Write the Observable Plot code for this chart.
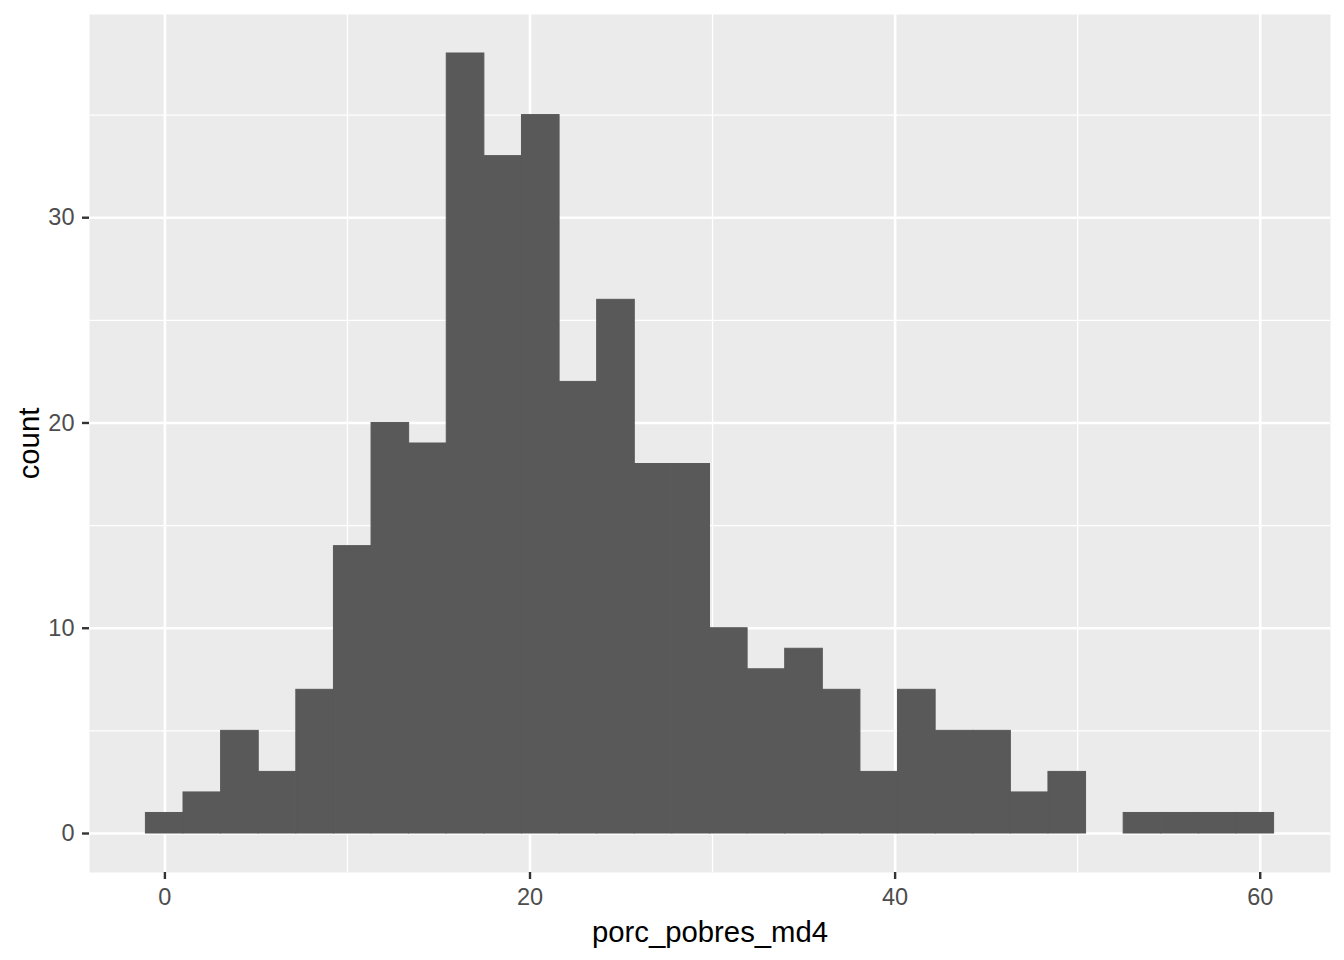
<!DOCTYPE html>
<html>
<head>
<meta charset="utf-8">
<script src="https://cdn.jsdelivr.net/npm/d3@7"></script>
<script src="https://cdn.jsdelivr.net/npm/@observablehq/plot@0.6"></script>
<style>
  html, body { margin: 0; padding: 0; background: #fff; }
  svg { display: block; }
</style>
</head>
<body>
<div id="chart"></div>
<script>
// Bin edges (data units) and counts
const binEdges = [-1.04, 1.02, 3.08, 5.14, 7.20, 9.26, 11.32, 13.38, 15.44, 17.50,
  19.56, 21.62, 23.68, 25.74, 27.80, 29.86, 31.92, 33.98, 36.04, 38.10,
  40.16, 42.22, 44.28, 46.34, 48.40, 50.46, 52.52, 54.58, 56.64, 58.70, 60.76];
const counts = [1, 2, 5, 3, 7, 14, 20, 19, 38, 33, 35, 22, 26, 18, 18, 10, 8, 9, 7, 3,
  7, 5, 5, 2, 3, 0, 1, 1, 1, 1];
const xMajor = [0, 20, 40, 60];
const xMinor = [10, 30, 50];
const yMajor = [0, 10, 20, 30];
const yMinor = [5, 15, 25, 35];
const xTitle = "porc_pobres_md4";
const yTitle = "count";

const bins = counts.map((c, i) => ({x1: binEdges[i], x2: binEdges[i + 1], count: c}));

const xMin = binEdges[0], xMax = binEdges[binEdges.length - 1];
const xPad = (xMax - xMin) * 0.05;
const yMax = d3.max(counts);
const yPad = yMax * 0.05;

const chart = Plot.plot({
  width: 1344,
  height: 960,
  marginLeft: 89,
  marginRight: 14,
  marginTop: 14,
  marginBottom: 88,
  style: {fontFamily: "'Liberation Sans', Arial, sans-serif", background: "#fff"},
  x: {domain: [xMin - xPad, xMax + xPad]},
  y: {domain: [-yPad, yMax + yPad]},
  marks: [
    Plot.frame({fill: "#EBEBEB", stroke: null}),
    Plot.ruleX(xMinor, {stroke: "#fff", strokeWidth: 1.3}),
    Plot.ruleY(yMinor, {stroke: "#fff", strokeWidth: 1.3}),
    Plot.ruleX(xMajor, {stroke: "#fff", strokeWidth: 2.6}),
    Plot.ruleY(yMajor, {stroke: "#fff", strokeWidth: 2.6}),
    Plot.rectY(bins.filter(d => d.count > 0), {x1: "x1", x2: "x2", y1: 0, y2: "count", fill: "#595959", stroke: "#595959", strokeWidth: 1}),
    Plot.axisX({ticks: xMajor, tickSize: 7, tickPadding: 9, strokeWidth: 2.4, stroke: "#333333", fill: "#4D4D4D", fontSize: 23.5, label: null, tickFormat: d => String(d)}),
    Plot.axisY({ticks: yMajor, tickSize: 7, tickPadding: 8, strokeWidth: 2.4, stroke: "#333333", fill: "#4D4D4D", fontSize: 23.5, label: null, tickFormat: d => String(d)}),
    Plot.text([xTitle], {frameAnchor: "bottom", dy: 69, lineAnchor: "bottom", textAnchor: "middle", fontSize: 29.3, fill: "#000"}),
    Plot.text([yTitle], {frameAnchor: "left", dx: -51, rotate: -90, lineAnchor: "bottom", textAnchor: "middle", fontSize: 29.3, fill: "#000"})
  ]
});
document.getElementById("chart").appendChild(chart);
</script>
</body>
</html>
